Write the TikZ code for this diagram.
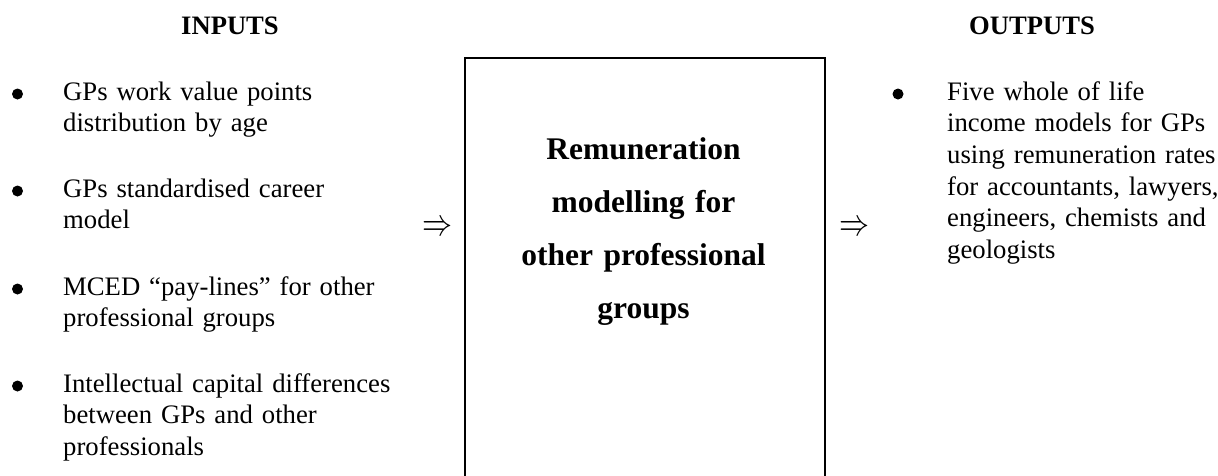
\documentclass[tikz,border=0pt]{standalone}
\usepackage{fontspec}
\setmainfont{Liberation Serif}
\begin{document}
\begin{tikzpicture}[x=1pt,y=-1pt,
  body/.style={inner sep=0pt, font=\fontsize{26.7}{31.7}\selectfont},
  item/.style={body, anchor=base west, text width=380pt, align=left},
  bul/.style={circle, fill=black, inner sep=0pt, minimum size=11pt},
  head/.style={inner sep=0pt, anchor=base, font=\fontsize{26.6}{31.7}\selectfont\bfseries},
  boxtxt/.style={inner sep=0pt, anchor=base, text width=360pt, align=center,
                 font=\fontsize{31.5}{53.3}\selectfont\bfseries},
  procbox/.style={draw, line width=2.2pt, inner sep=0pt, anchor=north west,
                  minimum width=360pt, minimum height=470pt},
  flow/.style={inner sep=0pt, anchor=center}]
\useasboundingbox (0,0) rectangle (1218,475);

% headings
\node[head] (hin) at (230,34) {INPUTS};
\node[head] (hout) at (1032,34) {OUTPUTS};

% inputs
\node[bul] (b1) at (17.5,94) {};
\node[item] (i1) at (63,100) {GPs work value points\\distribution by age};
\node[bul] (b2) at (17.5,191) {};
\node[item] (i2) at (63,197) {GPs standardised career\\model};
\node[bul] (b3) at (17.5,289) {};
\node[item] (i3) at (63,295) {MCED “pay-lines” for other\\professional groups};
\node[bul] (b4) at (17.5,386) {};
\node[item] (i4) at (63,392) {Intellectual capital differences\\between GPs and other\\professionals};

% central box (bottom edge lies outside the picture)
\begin{scope}
  \clip (0,0) rectangle (1218,475);
  \node[procbox] (box) at (464,57) {};
\end{scope}
\node[boxtxt] (btxt) at (643.5,159) {Remuneration\\modelling for\\other professional\\groups};

% flow arrows
\node[flow] (al) at (437,228.5) {\resizebox{30pt}{14pt}{$\Rightarrow$}};
\node[flow] (ar) at (854,228.5) {\resizebox{30pt}{14pt}{$\Rightarrow$}};

% outputs
\node[bul] (o1b) at (898,94) {};
\node[item, text width=280pt] (o1) at (947,100) {Five whole of life\\income models for GPs\\using remuneration rates\\for accountants, lawyers,\\engineers, chemists and\\geologists};
\end{tikzpicture}
\end{document}
